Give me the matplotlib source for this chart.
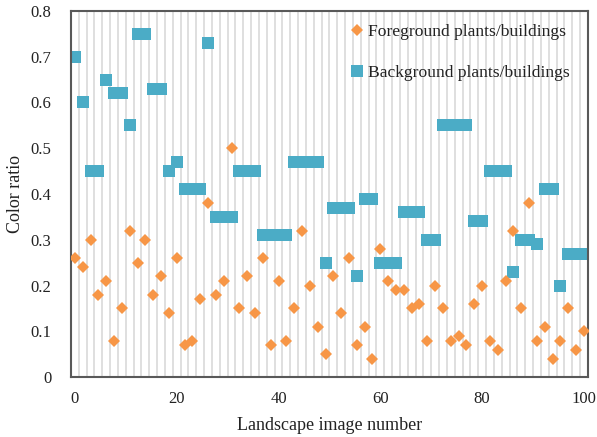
import numpy as np
import matplotlib
matplotlib.use("Agg")
import matplotlib.pyplot as plt

# colour ratio per landscape image (66 images spread over 0-100)
foreground = [0.26, 0.24, 0.30, 0.18, 0.21, 0.08, 0.15, 0.32, 0.25, 0.30,
              0.18, 0.22, 0.14, 0.26, 0.07, 0.08, 0.17, 0.38, 0.18, 0.21,
              0.50, 0.15, 0.22, 0.14, 0.26, 0.07, 0.21, 0.08, 0.15, 0.32,
              0.20, 0.11, 0.05, 0.22, 0.14, 0.26, 0.07, 0.11, 0.04, 0.28,
              0.21, 0.19, 0.19, 0.15, 0.16, 0.08, 0.20, 0.15, 0.08, 0.09,
              0.07, 0.16, 0.20, 0.08, 0.06, 0.21, 0.32, 0.15, 0.38, 0.08,
              0.11, 0.04, 0.08, 0.15, 0.06, 0.10]
background = [0.70, 0.60, 0.45, 0.45, 0.65, 0.62, 0.62, 0.55, 0.75, 0.75,
              0.63, 0.63, 0.45, 0.47, 0.41, 0.41, 0.41, 0.73, 0.35, 0.35,
              0.35, 0.45, 0.45, 0.45, 0.31, 0.31, 0.31, 0.31, 0.47, 0.47,
              0.47, 0.47, 0.25, 0.37, 0.37, 0.37, 0.22, 0.39, 0.39, 0.25,
              0.25, 0.25, 0.36, 0.36, 0.36, 0.30, 0.30, 0.55, 0.55, 0.55,
              0.55, 0.34, 0.34, 0.45, 0.45, 0.45, 0.23, 0.30, 0.30, 0.29,
              0.41, 0.41, 0.20, 0.27, 0.27, 0.27]
labels = ["Foreground plants/buildings", "Background plants/buildings"]
x_ticks = [0, 20, 40, 60, 80, 100]
y_ticks = [0, 0.1, 0.2, 0.3, 0.4, 0.5, 0.6, 0.7, 0.8]
y_ticklabels = ["0", "0.1", "0.2", "0.3", "0.4", "0.5", "0.6", "0.7", "0.8"]

plt.rcParams['font.family'] = ['Liberation Serif', 'DejaVu Serif']

n = len(foreground)
x = np.linspace(0, 100, n)
step = x[1] - x[0]

fig = plt.figure(figsize=(5.97, 4.37), dpi=100)
ax = fig.add_axes([0.119, 0.137, 0.866, 0.838])

# vertical grid between images
ax.vlines(x[:-1] + step / 2, 0, 0.8, color='#d9d9d9', lw=1.2, zorder=1)

ax.plot(x, foreground, linestyle='none', marker='D', markersize=6.3,
        color='#f79646', markeredgewidth=0,
        label=labels[0], zorder=3)
ax.plot(x, background, linestyle='none', marker='s', markersize=8.0,
        color='#4bacc6', markeredgewidth=0,
        label=labels[1], zorder=2)

ax.set_xlim(-0.75, 100.8)
ax.set_ylim(0, 0.8)
ax.set_xticks(x_ticks)
ax.set_yticks(y_ticks)
ax.set_yticklabels(y_ticklabels)
ax.tick_params(length=0, labelsize=12, colors='#222222')
ax.tick_params(axis='x', pad=10)
ax.tick_params(axis='y', pad=14)
for sp in ax.spines.values():
    sp.set_color('#595959')
    sp.set_linewidth(1.5)

ax.set_xlabel("Landscape image number", fontsize=13, color='#222222', labelpad=7)
ax.set_ylabel("Color ratio", fontsize=13, color='#222222', labelpad=5)

ax.legend(loc='upper left', bbox_to_anchor=(0.53, 0.985), frameon=False,
          fontsize=12.6, handlelength=0.6, handletextpad=0.3, labelspacing=1.45,
          borderaxespad=0, labelcolor='#222222')

fig.savefig("out.png", dpi=100)
